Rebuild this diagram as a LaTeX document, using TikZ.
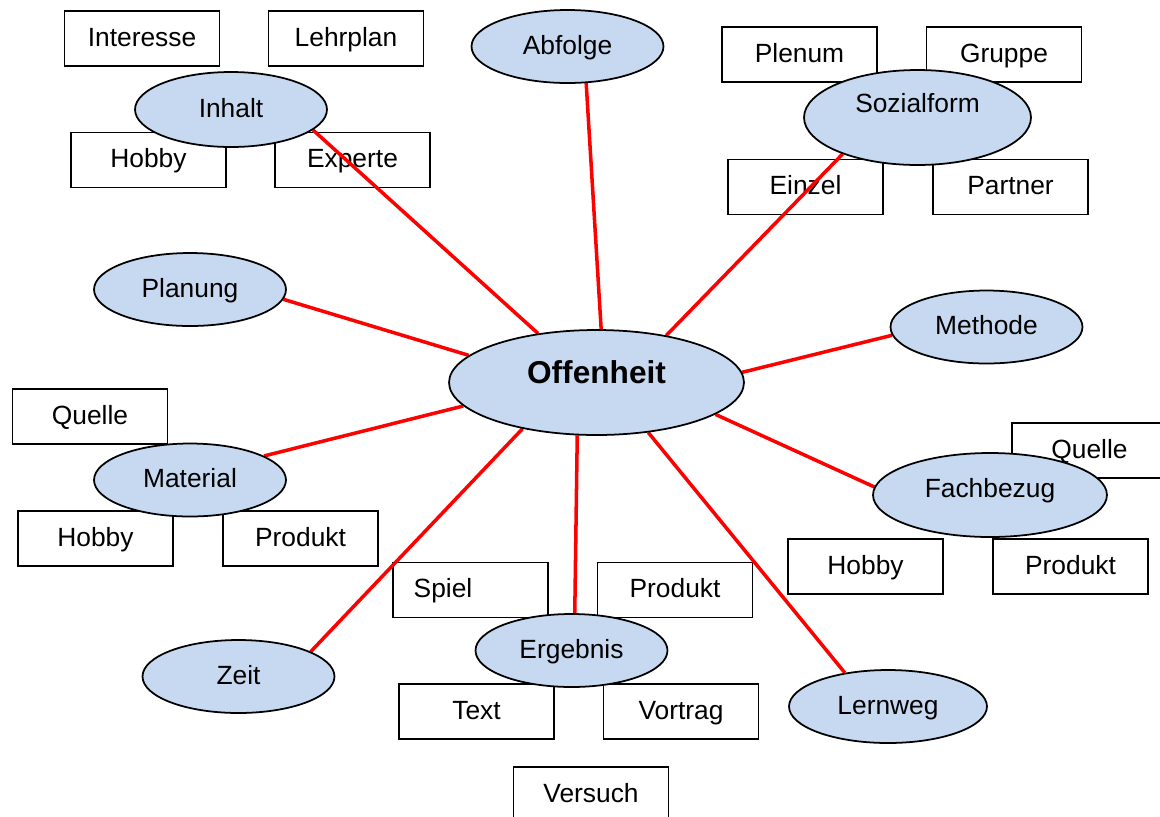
\documentclass[tikz,border=0pt]{standalone}
\usepackage{fontspec}
\setsansfont{Liberation Sans}
\usetikzlibrary{shapes.geometric}
\definecolor{facetblue}{RGB}{198,217,241}
\pgfdeclarelayer{boxes}
\pgfdeclarelayer{links}
\pgfsetlayers{boxes,links,main}

\begin{document}
\begin{tikzpicture}[
x=0.02cm, y=-0.02cm,
font=\sffamily\fontsize{15}{18}\selectfont,
facet/.style={ellipse,draw=black,fill=facetblue,line width=1pt,inner sep=2pt,
  minimum width=3.84cm,minimum height=1.46cm,text height=12pt,text depth=3pt},
hub/.style={facet,minimum width=5.9cm,minimum height=2.1cm,
  font=\sffamily\bfseries\fontsize{18}{21}\selectfont,text height=13pt,text depth=11.5pt},
choice/.style={rectangle,draw=black,fill=white,line width=1pt,
  minimum width=3.1cm,minimum height=1.1cm,text height=12pt,text depth=3pt},
link/.style={red,line width=2pt}
]
\useasboundingbox (0,0) rectangle (1160,816);

% centre and aspects
\node[hub] (off) at (596.5,382.5) {Offenheit};
\node[facet] (abf) at (567.5,46.5) {Abfolge};
\node[facet,minimum height=1.5cm] (inh) at (231,109.5) {Inhalt};
\node[facet,minimum width=4.54cm,minimum height=1.9cm,text depth=17.2pt] (soz) at (917.5,117.5) {Sozialform};
\node[facet] (plan) at (190,289.5) {Planung};
\node[facet] (meth) at (986.5,327) {Methode};
\node[facet,minimum width=4.68cm,minimum height=1.68cm,text depth=9.2pt] (fach) at (990,495) {Fachbezug};
\node[facet] (mat) at (190,480) {Material};
\node[facet] (zeit) at (238.5,676.5) {Zeit};
\node[facet] (erg) at (571.5,650.5) {Ergebnis};
\node[facet,minimum width=3.96cm] (lern) at (888,706.5) {Lernweg};

% choices
\begin{pgfonlayer}{boxes}
\node[choice] (inh1) at (142,38.5) {Interesse};
\node[choice] (inh2) at (346,38.5) {Lehrplan};
\node[choice] (inh3) at (148.5,160) {Hobby};
\node[choice] (inh4) at (352.5,160) {Experte};
\node[choice] (soz1) at (799.5,54.5) {Plenum};
\node[choice] (soz2) at (1004,54.5) {Gruppe};
\node[choice] (soz3) at (805.5,187) {Einzel};
\node[choice] (soz4) at (1010.5,187) {Partner};
\node[choice] (mat1) at (90,416.5) {Quelle};
\node[choice] (mat2) at (95.5,538.5) {Hobby};
\node[choice] (mat3) at (300.5,538.5) {Produkt};
\node[choice] (fach1) at (1089.5,450.5) {Quelle};
\node[choice] (fach2) at (865.5,566.5) {Hobby};
\node[choice] (fach3) at (1070.5,566.5) {Produkt};
\node[choice] (erg1) at (470.5,590) {Spiel\hspace*{1.1cm}};
\node[choice] (erg2) at (675,590) {Produkt};
\node[choice] (erg3) at (476.5,711.5) {Text};
\node[choice] (erg4) at (681,711.5) {Vortrag};
\node[choice] (erg5) at (591,794.5) {Versuch};
\end{pgfonlayer}

% links
\begin{pgfonlayer}{links}
\draw[link] (off.85) -- (abf.-63);
\draw[link] (off.140) -- (inh.-14);
\draw[link] (off.34) -- (soz.206);
\draw[link] (off.168) -- (plan.-6);
\draw[link] (off.4) -- (meth.185);
\draw[link] (off.-15) -- (fach.176);
\draw[link] (off.190) -- (mat.18);
\draw[link] (off.212) -- (zeit.19);
\draw[link] (off.250) -- (erg.85);
\draw[link] (off.-44) -- (lern.142);
\end{pgfonlayer}
\end{tikzpicture}
\end{document}
